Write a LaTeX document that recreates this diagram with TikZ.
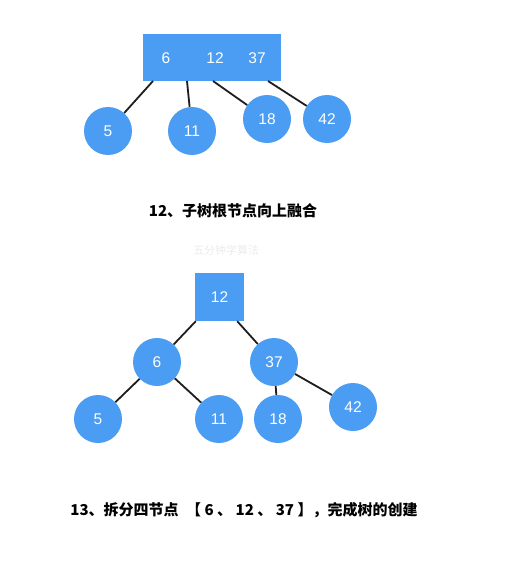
\documentclass[tikz,border=0pt]{standalone}
\usepackage{fontspec}
\setmainfont{Liberation Sans}
\newfontfamily\cjk{Noto Sans CJK SC}
\begin{document}
\begin{tikzpicture}[x=1pt,y=-1pt,
  nodefill/.style={fill=treeblue,draw=none,text=white,font=\fontsize{15.5}{17}\selectfont},
  circ/.style={nodefill,circle,minimum size=48pt,inner sep=0pt},
  edge/.style={line width=1.8pt,draw=edgecol},
  caption/.style={font=\cjk\bfseries\fontsize{15}{18}\selectfont,text=black,inner sep=0pt}]
\definecolor{treeblue}{HTML}{4A9DF3}
\definecolor{edgecol}{HTML}{1E1E1E}
\definecolor{wm}{HTML}{ECECEC}
\useasboundingbox[fill=white] (0,0) rectangle (505,562);

% ---- step 12 ----
\node[nodefill,rectangle,minimum width=138pt,minimum height=47pt,inner sep=0pt] (top) at (212,57.5) {};
\node[text=white,font=\fontsize{15.5}{17}\selectfont,inner sep=0pt] (t6) at (166,58) {6};
\node[text=white,font=\fontsize{15.5}{17}\selectfont,inner sep=0pt] (t12) at (215,58) {12};
\node[text=white,font=\fontsize{15.5}{17}\selectfont,inner sep=0pt] (t37) at (257,58) {37};
\node[circ] (a5) at (108,131) {5};
\node[circ] (a11) at (192,131) {11};
\node[circ] (a18) at (267,119) {18};
\node[circ] (a42) at (327,119) {42};
\coordinate (b1) at (153,81);
\coordinate (b2) at (187,81);
\coordinate (b3) at (213,81);
\coordinate (b4) at (268,81);
\draw[edge] (b1) -- (a5);
\draw[edge] (b2) -- (a11);
\draw[edge] (b3) -- (a18);
\draw[edge] (b4) -- (a42);
\node[caption] (cap1) at (233,211) {12、子树根节点向上融合};
\node[font=\cjk\fontsize{11}{13}\selectfont,text=wm,inner sep=0pt] (wmk) at (226,250) {五分钟学算法};

% ---- step 13 ----
\node[nodefill,rectangle,minimum width=49pt,minimum height=48pt,inner sep=0pt] (r12) at (219.5,297) {12};
\node[circ] (c6) at (157,362) {6};
\node[circ] (c37) at (274,362) {37};
\node[circ] (c5) at (98,419) {5};
\node[circ] (c11) at (219,419) {11};
\node[circ] (c18) at (278,419) {18};
\node[circ] (c42) at (353,407) {42};
\draw[edge] ([xshift=1pt]r12.south west) -- (c6);
\draw[edge] ([xshift=-7pt]r12.south east) -- (c37);
\draw[edge] (c6) -- (c5);
\draw[edge] (c6) -- (c11);
\draw[edge] (c37) -- (c18);
\draw[edge] (c37) -- (c42);
\node[caption] (cap2) at (244,510) {13、拆分四节点\enspace【\ 6\ 、\ 12\ 、\ 37\ 】，完成树的创建};
\end{tikzpicture}
\end{document}
